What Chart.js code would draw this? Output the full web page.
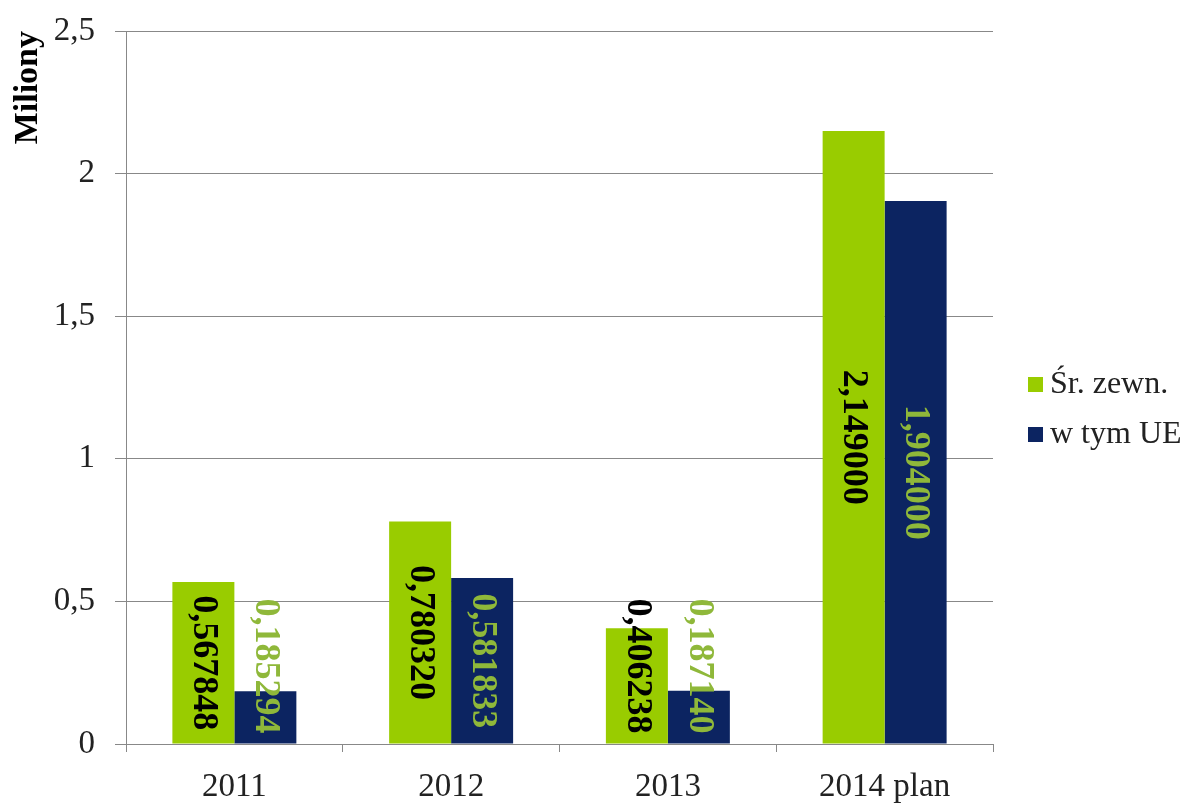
<!DOCTYPE html>
<html>
<head>
<meta charset="utf-8">
<script src="https://cdn.jsdelivr.net/npm/chart.js@4"></script>
<style>
  html, body { margin: 0; padding: 0; background: #fff; }
  #wrap { width: 1203px; height: 805px; }
</style>
</head>
<body>
<div id="wrap"><canvas id="chart" width="1203" height="805"></canvas></div>
<script>
const categories = ['2011', '2012', '2013', '2014 plan'];
const srZewn = [0.567848, 0.780320, 0.406238, 2.149000]; // Śr. zewn.
const wTymUE = [0.185294, 0.581833, 0.187140, 1.904000]; // w tym UE
const seriesNames = ['Śr. zewn.', 'w tym UE'];
const yTicks = [0, 0.5, 1, 1.5, 2, 2.5];

const FONT = '"Liberation Serif", "Times New Roman", serif';
const fmt = v => String(v).replace('.', ',');

// rotated value labels inside the bars
const barLabels = {
  id: 'barLabels',
  afterDatasetsDraw(chart) {
    const ctx = chart.ctx;
    ctx.save();
    ctx.font = 'bold 36px ' + FONT;
    ctx.textAlign = 'center';
    ctx.textBaseline = 'middle';
    chart.data.datasets.forEach((ds, i) => {
      const meta = chart.getDatasetMeta(i);
      meta.data.forEach((bar, j) => {
        const txt = ds.data[j].toFixed(6).replace('.', ',');
        const w = ctx.measureText(txt).width;
        let cy = (bar.y + bar.base) / 2;
        cy = Math.min(cy, bar.base - w / 2 - 10);
        ctx.save();
        ctx.translate(bar.x, cy);
        ctx.rotate(Math.PI / 2);
        ctx.fillStyle = ds.labelColor;
        ctx.fillText(txt, 0, 0);
        ctx.restore();
      });
    });
    ctx.restore();
  }
};

// legend at the right
const sideLegend = {
  id: 'sideLegend',
  afterDraw(chart) {
    const ctx = chart.ctx;
    ctx.save();
    ctx.font = '32px ' + FONT;
    ctx.textBaseline = 'middle';
    chart.data.datasets.forEach((ds, i) => {
      const cy = 385 + i * 50;
      ctx.fillStyle = ds.backgroundColor;
      ctx.fillRect(1028, cy - 8, 15, 15);
      ctx.fillStyle = '#222';
      ctx.fillText(ds.label, 1050, cy);
    });
    ctx.restore();
  }
};

new Chart(document.getElementById('chart'), {
  type: 'bar',
  data: {
    labels: categories,
    datasets: [
      {
        label: seriesNames[0],
        data: srZewn,
        backgroundColor: '#99CC00',
        labelColor: '#000000',
        categoryPercentage: 0.572,
        barPercentage: 1.0
      },
      {
        label: seriesNames[1],
        data: wTymUE,
        backgroundColor: '#0C2461',
        labelColor: '#8FB83A',
        categoryPercentage: 0.572,
        barPercentage: 1.0
      }
    ]
  },
  options: {
    responsive: false,
    animation: false,
    layout: { padding: { left: 0, right: 210, top: 31, bottom: 0 } },
    plugins: {
      legend: { display: false },
      tooltip: { enabled: false }
    },
    scales: {
      x: {
        offset: true,
        grid: {
          display: true,
          drawOnChartArea: false,
          offset: true,
          tickLength: 8,
          color: '#888'
        },
        border: { display: true, color: '#888', width: 1 },
        ticks: {
          color: '#222',
          padding: 16,
          font: { family: FONT, size: 33 }
        },
        afterFit(scale) { scale.height = 61; }
      },
      y: {
        min: 0,
        max: 2.5,
        afterBuildTicks(scale) { scale.ticks = yTicks.map(v => ({ value: v })); },
        grid: { color: '#888', lineWidth: 1, tickLength: 11 },
        border: { display: true, color: '#888', width: 1 },
        ticks: {
          color: '#222',
          padding: 20,
          font: { family: FONT, size: 33 },
          callback: v => fmt(v)
        },
        title: {
          display: true,
          text: 'Miliony',
          align: 'end',
          color: '#000',
          padding: { top: 8, bottom: 0 },
          font: { family: FONT, size: 34, weight: 'bold' }
        },
        afterFit(scale) {
          scale.width = 126;
          scale.paddingTop = 0;
          scale.paddingBottom = 0;
        }
      }
    }
  },
  plugins: [barLabels, sideLegend]
});
</script>
</body>
</html>
